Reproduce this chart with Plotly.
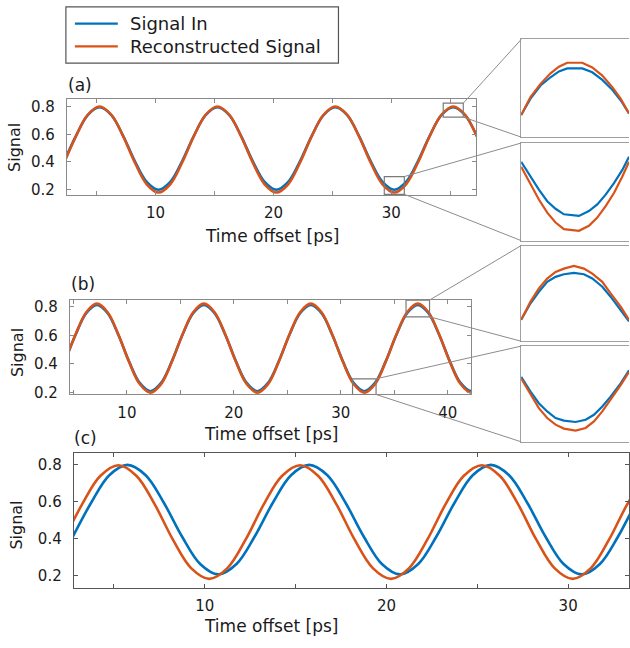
import plotly.graph_objects as go

W, H = 630, 648

# ---------------- data ----------------
# panel (a)
a_time = [2.25, 3.25, 4.25, 5.25, 6.25, 7.25, 8.25, 9.25, 10.25, 11.25, 12.25, 13.25,
          14.25, 15.25, 16.25, 17.25, 18.25, 19.25, 20.25, 21.25, 22.25, 23.25, 24.25,
          25.25, 26.25, 27.25, 28.25, 29.25, 30.25, 31.25, 32.25, 33.25, 34.25, 35.25,
          36.25, 37.25, 38.25]
a_signal_in = [0.405, 0.590, 0.740, 0.797, 0.740, 0.590, 0.405, 0.255, 0.198, 0.255,
               0.405, 0.590, 0.740, 0.797, 0.740, 0.590, 0.405, 0.255, 0.198, 0.255,
               0.405, 0.590, 0.740, 0.797, 0.740, 0.590, 0.405, 0.255, 0.198, 0.255,
               0.405, 0.590, 0.740, 0.797, 0.740, 0.590, 0.405]
a_reconstructed = [0.394, 0.587, 0.743, 0.803, 0.743, 0.587, 0.394, 0.238, 0.178, 0.238,
                   0.394, 0.587, 0.743, 0.803, 0.743, 0.587, 0.394, 0.238, 0.178, 0.238,
                   0.394, 0.587, 0.743, 0.803, 0.743, 0.587, 0.394, 0.238, 0.178, 0.238,
                   0.394, 0.587, 0.743, 0.803, 0.743, 0.587, 0.394]

# panel (b)
b_time = [4.2, 5.2, 6.2, 7.2, 8.2, 9.2, 10.2, 11.2, 12.2, 13.2, 14.2, 15.2, 16.2, 17.2,
          18.2, 19.2, 20.2, 21.2, 22.2, 23.2, 24.2, 25.2, 26.2, 27.2, 28.2, 29.2, 30.2,
          31.2, 32.2, 33.2, 34.2, 35.2, 36.2, 37.2, 38.2, 39.2, 40.2, 41.2, 42.2, 43.2]
b_signal_in = [0.418, 0.605, 0.756, 0.814, 0.756, 0.605, 0.418, 0.267, 0.209, 0.267,
               0.418, 0.605, 0.756, 0.814, 0.756, 0.605, 0.418, 0.267, 0.209, 0.267,
               0.418, 0.605, 0.756, 0.814, 0.756, 0.605, 0.418, 0.267, 0.209, 0.267,
               0.418, 0.605, 0.756, 0.814, 0.756, 0.605, 0.418, 0.267, 0.209, 0.267]
b_reconstructed = [0.415, 0.607, 0.763, 0.823, 0.763, 0.607, 0.415, 0.259, 0.199, 0.259,
                   0.415, 0.607, 0.763, 0.823, 0.763, 0.607, 0.415, 0.259, 0.199, 0.259,
                   0.415, 0.607, 0.763, 0.823, 0.763, 0.607, 0.415, 0.259, 0.199, 0.259,
                   0.415, 0.607, 0.763, 0.823, 0.763, 0.607, 0.415, 0.259, 0.199, 0.259]

# panel (c)
c_time_in = [2.75, 3.75, 4.75, 5.75, 6.75, 7.75, 8.75, 9.75, 10.75, 11.75, 12.75, 13.75,
             14.75, 15.75, 16.75, 17.75, 18.75, 19.75, 20.75, 21.75, 22.75, 23.75, 24.75,
             25.75, 26.75, 27.75, 28.75, 29.75, 30.75, 31.75, 32.75, 33.75, 34.75]
c_signal_in = [0.412, 0.594, 0.742, 0.798, 0.742, 0.594, 0.412, 0.264, 0.208, 0.264,
               0.412, 0.594, 0.742, 0.798, 0.742, 0.594, 0.412, 0.264, 0.208, 0.264,
               0.412, 0.594, 0.742, 0.798, 0.742, 0.594, 0.412, 0.264, 0.208, 0.264,
               0.412, 0.594, 0.742]
c_time_rec = [2.25, 3.25, 4.25, 5.25, 6.25, 7.25, 8.25, 9.25, 10.25, 11.25, 12.25, 13.25,
              14.25, 15.25, 16.25, 17.25, 18.25, 19.25, 20.25, 21.25, 22.25, 23.25, 24.25,
              25.25, 26.25, 27.25, 28.25, 29.25, 30.25, 31.25, 32.25, 33.25, 34.25]
c_reconstructed = [0.395, 0.585, 0.738, 0.796, 0.738, 0.585, 0.395, 0.242, 0.184, 0.242,
                   0.395, 0.585, 0.738, 0.796, 0.738, 0.585, 0.395, 0.242, 0.184, 0.242,
                   0.395, 0.585, 0.738, 0.796, 0.738, 0.585, 0.395, 0.242, 0.184, 0.242,
                   0.395, 0.585, 0.738]

# zoom insets (finely sampled detail)
ia_top_time = [34.40, 34.547, 34.705, 34.863, 34.995, 35.126, 35.363, 35.521, 35.679,
               35.837, 35.968, 36.10]
ia_top_in = [0.7488, 0.7658, 0.7794, 0.7879, 0.7940, 0.7971, 0.7971, 0.7930, 0.7852,
             0.7750, 0.7641, 0.7505]
ia_top_rec = [0.7488, 0.7675, 0.7811, 0.7920, 0.7988, 0.8029, 0.8029, 0.7981, 0.7896,
              0.7777, 0.7658, 0.7505]

ia_bot_time = [29.40, 29.547, 29.679, 29.811, 29.942, 30.074, 30.311, 30.468, 30.600,
               30.732, 30.863, 30.995, 31.10]
ia_bot_in = [0.2692, 0.2497, 0.2323, 0.2171, 0.2071, 0.1998, 0.1976, 0.2041, 0.2128,
             0.2258, 0.2410, 0.2584, 0.2758]
ia_bot_rec = [0.2627, 0.2388, 0.2193, 0.2019, 0.1889, 0.1802, 0.1780, 0.1846, 0.1954,
              0.2106, 0.2280, 0.2497, 0.2692]

ib_top_time = [36.10, 36.291, 36.461, 36.631, 36.802, 36.972, 37.176, 37.380, 37.551,
               37.755, 37.925, 38.130, 38.30]
ib_top_in = [0.7572, 0.7774, 0.7915, 0.8036, 0.8097, 0.8129, 0.8145, 0.8129, 0.8077,
             0.7976, 0.7855, 0.7693, 0.7552]
ib_top_rec = [0.7572, 0.7794, 0.7956, 0.8077, 0.8157, 0.8198, 0.8230, 0.8198, 0.8137,
              0.8036, 0.7895, 0.7734, 0.7572]

ib_bot_time = [31.10, 31.291, 31.461, 31.631, 31.802, 31.972, 32.210, 32.415, 32.585,
               32.755, 32.925, 33.130, 33.30]
ib_bot_in = [0.2607, 0.2437, 0.2304, 0.2209, 0.2133, 0.2103, 0.2088, 0.2114, 0.2171,
             0.2266, 0.2380, 0.2531, 0.2683]
ib_bot_rec = [0.2588, 0.2399, 0.2247, 0.2133, 0.2057, 0.2012, 0.1989, 0.2019, 0.2095,
              0.2209, 0.2342, 0.2512, 0.2664]

# zoom windows (inset limits = rectangles drawn in the main panels)
zoom_a_top_x, zoom_a_top_y = [34.4, 36.1], [0.726, 0.827]
zoom_a_bot_x, zoom_a_bot_y = [29.4, 31.1], [0.165, 0.294]
zoom_b_top_x, zoom_b_top_y = [36.1, 38.3], [0.731, 0.848]
zoom_b_bot_x, zoom_b_bot_y = [31.1, 33.3], [0.186, 0.296]

# axis limits and ticks
a_xrange, a_yrange = [2.48, 37.2], [0.158, 0.86]
b_xrange, b_yrange = [4.67, 42.2], [0.186, 0.85]
c_xrange, c_yrange = [2.8, 33.35], [0.136, 0.864]
x_tickvals = [5, 10, 15, 20, 25, 30, 35, 40]
x_ticktext = ["", "10", "", "20", "", "30", "", "40"]
y_tickvals = [0.2, 0.4, 0.6, 0.8]
y_ticktext = ["0.2", "0.4", "0.6", "0.8"]

series_names = ["Signal In", "Reconstructed Signal"]
BLUE, ORANGE = "#0072BD", "#D95319"
FONT = "DejaVu Sans, Liberation Sans, Arial, sans-serif"


# ---------------- layout helpers (pixel -> paper) ----------------
def px(x):
    return x / W


def py(y):
    return 1 - y / H


def dom_x(x0, x1):
    return [px(x0), min(px(x1), 1.0)]


def dom_y(y_top, y_bot):
    return [py(y_bot), py(y_top)]


def to_paper(v, rng, dom):
    return dom[0] + (v - rng[0]) / (rng[1] - rng[0]) * (dom[1] - dom[0])


dom = {
    "a": (dom_x(67, 477), dom_y(98, 196)),
    "b": (dom_x(70, 472), dom_y(302, 398)),
    "c": (dom_x(74, 630), dom_y(457, 594)),
    "iat": (dom_x(522, 630), dom_y(38, 137)),
    "iab": (dom_x(522, 630), dom_y(143, 242)),
    "ibt": (dom_x(522, 630), dom_y(247, 344)),
    "ibb": (dom_x(522, 630), dom_y(349, 446)),
}

fig = go.Figure()


def add_pair(t_in, y_in, t_rec, y_rec, ax, width, shape):
    xa, ya = ("x", "y") if ax == 1 else (f"x{ax}", f"y{ax}")
    fig.add_trace(go.Scatter(x=t_in, y=y_in, mode="lines", name=series_names[0],
                             line=dict(color=BLUE, width=width, shape=shape),
                             xaxis=xa, yaxis=ya, showlegend=False))
    fig.add_trace(go.Scatter(x=t_rec, y=y_rec, mode="lines", name=series_names[1],
                             line=dict(color=ORANGE, width=width, shape=shape),
                             xaxis=xa, yaxis=ya, showlegend=False))


add_pair(a_time, a_signal_in, a_time, a_reconstructed, 1, 2.6, "spline")
add_pair(b_time, b_signal_in, b_time, b_reconstructed, 2, 2.6, "spline")
add_pair(c_time_in, c_signal_in, c_time_rec, c_reconstructed, 3, 2.6, "spline")
add_pair(ia_top_time, ia_top_in, ia_top_time, ia_top_rec, 4, 2.2, "linear")
add_pair(ia_bot_time, ia_bot_in, ia_bot_time, ia_bot_rec, 5, 2.2, "linear")
add_pair(ib_top_time, ib_top_in, ib_top_time, ib_top_rec, 6, 2.2, "linear")
add_pair(ib_bot_time, ib_bot_in, ib_bot_time, ib_bot_rec, 7, 2.2, "linear")

tick_font = dict(family=FONT, size=15, color="#1a1a1a")


def main_axes(domx, domy, xr, yr, color):
    common = dict(showgrid=False, zeroline=False, showline=True, linecolor=color,
                  linewidth=1.3, ticks="inside", ticklen=4, tickcolor=color,
                  tickwidth=1, mirror="ticks", tickfont=tick_font, tickmode="array")
    xa = dict(common, domain=domx, range=xr, tickvals=x_tickvals, ticktext=x_ticktext,
              ticklabelstandoff=4)
    ya = dict(common, domain=domy, range=yr, tickvals=y_tickvals, ticktext=y_ticktext,
              ticklabelstandoff=8)
    return xa, ya


def inset_axes(domx, domy, xr, yr, anchor_x, anchor_y):
    c = "#a0a0a0"
    xa = dict(domain=domx, range=xr, showgrid=False, zeroline=False, showline=True,
              linecolor=c, linewidth=1.3, mirror=True, showticklabels=False, ticks="",
              anchor=anchor_y)
    ya = dict(domain=domy, range=yr, showgrid=False, zeroline=False, showline=True,
              linecolor=c, linewidth=1.3, mirror=False, showticklabels=False, ticks="",
              anchor=anchor_x)
    return xa, ya


layout = {}
layout["xaxis"], layout["yaxis"] = main_axes(*dom["a"], a_xrange, a_yrange, "#8a8a8a")
layout["xaxis2"], layout["yaxis2"] = main_axes(*dom["b"], b_xrange, b_yrange, "#8a8a8a")
layout["xaxis3"], layout["yaxis3"] = main_axes(*dom["c"], c_xrange, c_yrange, "#555555")
layout["xaxis"]["anchor"], layout["yaxis"]["anchor"] = "y", "x"
layout["xaxis2"]["anchor"], layout["yaxis2"]["anchor"] = "y2", "x2"
layout["xaxis3"]["anchor"], layout["yaxis3"]["anchor"] = "y3", "x3"
insets = [("iat", zoom_a_top_x, zoom_a_top_y, 4), ("iab", zoom_a_bot_x, zoom_a_bot_y, 5),
          ("ibt", zoom_b_top_x, zoom_b_top_y, 6), ("ibb", zoom_b_bot_x, zoom_b_bot_y, 7)]
for key, zx, zy, n in insets:
    layout[f"xaxis{n}"], layout[f"yaxis{n}"] = inset_axes(*dom[key], zx, zy, f"x{n}", f"y{n}")

shapes = []
# zoom rectangles and connector lines
box_color, link_color = "#7a7a7a", "#8c8c8c"
for key, main, zx, zy in [("iat", "a", zoom_a_top_x, zoom_a_top_y),
                          ("iab", "a", zoom_a_bot_x, zoom_a_bot_y),
                          ("ibt", "b", zoom_b_top_x, zoom_b_top_y),
                          ("ibb", "b", zoom_b_bot_x, zoom_b_bot_y)]:
    ax = "" if main == "a" else "2"
    shapes.append(dict(type="rect", xref=f"x{ax}", yref=f"y{ax}", x0=zx[0], x1=zx[1],
                       y0=zy[0], y1=zy[1], line=dict(color=box_color, width=1.2)))
    mdx, mdy = dom[main]
    rng_x = a_xrange if main == "a" else b_xrange
    rng_y = a_yrange if main == "a" else b_yrange
    bx = to_paper(zx[1], rng_x, mdx)
    by_top = to_paper(zy[1], rng_y, mdy)
    by_bot = to_paper(zy[0], rng_y, mdy)
    idx, idy = dom[key]
    shapes.append(dict(type="line", xref="paper", yref="paper", x0=bx, y0=by_top,
                       x1=idx[0], y1=idy[1], line=dict(color=link_color, width=1)))
    shapes.append(dict(type="line", xref="paper", yref="paper", x0=bx, y0=by_bot,
                       x1=idx[0], y1=idy[0], line=dict(color=link_color, width=1)))

# legend (box, line samples)
shapes.append(dict(type="rect", xref="paper", yref="paper", x0=px(66), x1=px(339),
                   y0=py(62), y1=py(5), line=dict(color="#555555", width=1.2),
                   fillcolor="white"))
for yy, col in [(22, BLUE), (45, ORANGE)]:
    shapes.append(dict(type="line", xref="paper", yref="paper", x0=px(75), x1=px(118),
                       y0=py(yy), y1=py(yy), line=dict(color=col, width=2.2)))

annotations = []


def text(x, y, s, size, xanchor="center", angle=0):
    annotations.append(dict(xref="paper", yref="paper", x=px(x), y=py(y), text=s,
                            showarrow=False, xanchor=xanchor, yanchor="middle",
                            textangle=angle,
                            font=dict(family=FONT, size=size, color="#1a1a1a")))


text(128, 22, series_names[0], 18, "left")
text(128, 45, series_names[1], 18, "left")
text(66, 84, "(a)", 17, "left")
text(69, 286, "(b)", 17, "left")
text(72, 442, "(c)", 17, "left")
for (xc, yc) in [(272, 237), (271, 438), (271, 633)]:
    text(xc, yc, "Time offset [ps]", 17)
for (xc, yc) in [(15, 147), (17, 355), (17, 530)]:
    text(xc, yc, "Signal", 16, angle=-90)

fig.update_layout(width=W, height=H, autosize=False,
                  margin=dict(l=0, r=0, t=0, b=0),
                  paper_bgcolor="white", plot_bgcolor="white",
                  showlegend=False, shapes=shapes, annotations=annotations,
                  **layout)

fig.write_html("out.html",
               config={"displayModeBar": False, "responsive": False},
               post_script="document.body.style.margin='0px';"
                           "document.documentElement.style.overflow='hidden';")
